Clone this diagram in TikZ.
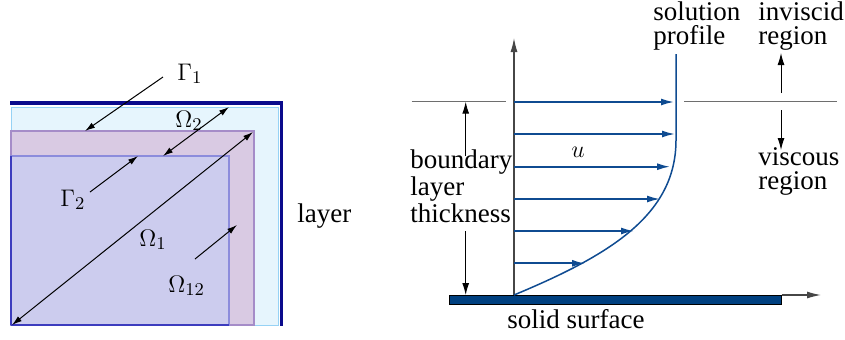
\documentclass[tikz,border=0pt]{standalone}
\usepackage{fontspec}
\setmainfont{Liberation Serif}
\newfontfamily\lblserif{Liberation Serif}
\usetikzlibrary{arrows.meta}
\definecolor{navyframe}{RGB}{10,10,140}
\definecolor{lightfill}{RGB}{230,245,253}
\definecolor{lightedge}{RGB}{150,210,245}
\definecolor{pinkfill}{RGB}{217,202,227}
\definecolor{pinkedge}{RGB}{165,140,200}
\definecolor{innerfill}{RGB}{204,204,238}
\definecolor{inneredge}{RGB}{140,140,220}
\definecolor{innerbottom}{RGB}{60,60,190}
\definecolor{profblue}{RGB}{15,75,145}
\definecolor{surfblue}{RGB}{0,64,128}
\definecolor{axisgray}{RGB}{70,70,70}
\definecolor{refgray}{RGB}{110,110,110}
\begin{document}
\begin{tikzpicture}[x=0.5pt,y=-0.5pt,
  txt/.style={font=\lblserif\fontsize{13.5}{11.75}\selectfont, inner sep=0pt, align=left},
  mth/.style={font=\fontsize{13}{13}\selectfont, inner sep=0pt},
  lblarrow/.style={draw=black, line width=0.5pt, -{Latex[length=5pt,width=3pt]}},
  lbldbl/.style={draw=black, line width=0.5pt, {Latex[length=5pt,width=3pt]}-{Latex[length=5pt,width=3pt]}},
  blkarrow/.style={draw=black, line width=0.5pt, -{Latex[length=6pt,width=3.5pt]}},
  axisarrow/.style={draw=axisgray, line width=0.6pt, -{Latex[length=7pt,width=3.5pt]}},
  vel/.style={draw=profblue, line width=0.85pt, -{Latex[length=6.5pt,width=3.5pt]}},
  refline/.style={draw=refgray, line width=0.5pt}]
\useasboundingbox (0,0) rectangle (845,339);

% ---------- left diagram ----------
\fill[lightfill, draw=lightedge, line width=0.5pt] (11,107) rectangle (278,325);
\fill[pinkfill, draw=pinkedge, line width=0.6pt] (11,131) rectangle (254,325);
\fill[innerfill, draw=inneredge, line width=0.6pt] (11,156) rectangle (229,325);
\draw[innerbottom, line width=0.7pt] (11,325) -- (229,325);
\draw[innerbottom, line width=0.7pt] (11,156) -- (11,325);
\draw[navyframe, line width=1.7pt] (10,103) -- (281.5,103) -- (281.5,326);

\node[mth, anchor=base west] (G1) at (177,80) {$\Gamma_1$};
\node[mth, anchor=base west] (O2) at (175,127) {$\Omega_2$};
\node[mth, anchor=base west] (G2) at (60,206) {$\Gamma_2$};
\node[mth, anchor=base west] (O1) at (139,246) {$\Omega_1$};
\node[mth, anchor=base west] (O12) at (168,292) {$\Omega_{12}$};
\node[txt, anchor=base west] (layer) at (297,222) {layer};

\coordinate (g1s) at (163,77);   \coordinate (g1e) at (85,131);
\coordinate (o2a) at (163,156);  \coordinate (o2b) at (229,107);
\coordinate (g2s) at (90,192);   \coordinate (g2e) at (138,156);
\coordinate (o1a) at (12,325);   \coordinate (o1b) at (253,132);
\coordinate (o12s) at (195,259); \coordinate (o12e) at (237,225);
\draw[lblarrow] (g1s) -- (g1e);
\draw[lbldbl] (o2a) -- (o2b);
\draw[lblarrow] (g2s) -- (g2e);
\draw[lbldbl] (o1a) -- (o1b);
\draw[lblarrow] (o12s) -- (o12e);

% ---------- right diagram ----------
\coordinate (origin) at (514,295);
\coordinate (ytop) at (514,38);
\coordinate (surfL) at (449,295);
\coordinate (surfR) at (781.7,304);
\coordinate (xend) at (821,295);
\coordinate (xstart) at (781.7,295);

\draw[refline] (411.7,101.7) coordinate (hl1) -- (506,101.7) coordinate (hl2);
\draw[refline] (684,101.7) coordinate (hr1) -- (837,101.7) coordinate (hr2);

\draw[axisarrow] (origin) -- (ytop);
\fill[surfblue, draw=black, line width=0.5pt] (surfL) rectangle (surfR);
\draw[axisarrow] (xstart) -- (xend);

% velocity arrows
\foreach \y/\t [count=\i] in {102/674, 134/675, 166.7/670, 199/660, 231/634, 263.3/585}{
  \coordinate (vs\i) at (514,\y);
  \coordinate (ve\i) at (\t,\y);
  \draw[vel] (vs\i) -- (ve\i);
}
% profile
\coordinate (ptop) at (676,54);
\draw[profblue, line width=0.75pt] (origin) .. controls (610,255) and (676,215) .. (676,140) -- (ptop);

\node[mth] (u) at (578,152) {$u$};

% boundary layer thickness
\node[txt, anchor=base west] (blt) at (410,222) {boundary\\layer\\thickness};
\coordinate (bu1) at (465.7,156); \coordinate (bu2) at (465.7,101.7);
\coordinate (bd1) at (465.7,231); \coordinate (bd2) at (465.7,295);
\draw[blkarrow] (bu1) -- (bu2);
\draw[blkarrow] (bd1) -- (bd2);

\node[txt, anchor=base west] (sol) at (653,44) {solution\\profile};
\node[txt, anchor=base west] (inv) at (758,44) {inviscid\\region};
\node[txt, anchor=base west] (visc) at (758,189) {viscous\\region};
\coordinate (ua1) at (781,93);  \coordinate (ua2) at (781,53);
\coordinate (da1) at (781,110); \coordinate (da2) at (781,150);
\draw[blkarrow] (ua1) -- (ua2);
\draw[blkarrow] (da1) -- (da2);

\node[txt, anchor=base] (solid) at (576,328) {solid surface};
\end{tikzpicture}
\end{document}
